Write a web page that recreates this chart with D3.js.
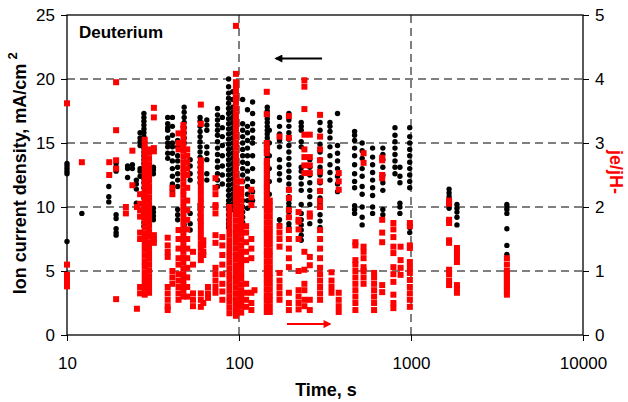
<!DOCTYPE html>
<html>
<head>
<meta charset="utf-8">
<script src="https://cdn.jsdelivr.net/npm/d3@7"></script>
<style>
body { margin: 0; background: #fff; }
svg text { font-family: "Liberation Sans", Arial, sans-serif; }
</style>
</head>
<body>
<svg id="chart" width="628" height="402"></svg>
<script>
// axis ticks
var timeTicks = [10, 100, 1000, 10000];
var ionTicks = [0, 5, 10, 15, 20, 25];
var ratioTicks = [0, 1, 2, 3, 4, 5];

// ion current density, mA/cm2 : [time s, [values...]]
var ionColumns = [
    [10, [7.3, 12.6, 12.8, 13.0, 13.2, 13.4]],
    [12.2, [9.5]],
    [17.5, [10.4, 10.8, 11.6]],
    [19.3, [7.8, 8.0, 8.3, 9.1, 9.4, 12.8, 13.1, 13.4]],
    [22.5, [12.3, 13.0, 13.2]],
    [24.0, [13.0, 13.3]],
    [25.3, [10.3, 11.4, 11.8, 12.1]],
    [26.6, [12.4, 12.8, 13.0, 14.8, 15.1, 15.4, 15.8]],
    [28.0, [8.5, 8.8, 9.1, 9.5, 9.9, 10.3, 10.7, 11.1, 11.5, 11.9, 12.2, 12.5, 12.8, 13.1, 13.4, 13.7, 14.0, 14.3, 14.6, 14.9, 15.2, 15.5, 15.8, 16.1, 16.4, 16.7, 17.0, 17.3]],
    [29.5, [8.4, 8.7, 9.1, 9.6, 10.1, 10.5, 12.0, 12.6]],
    [31.8, [9.0, 9.3, 9.6, 9.9, 12.6, 12.9, 13.1]],
    [38.5, [13.8, 14.2, 14.7, 15.0, 15.4, 16.0, 16.2, 16.5, 17.0]],
    [41.0, [11.3, 11.8, 12.4, 13.0, 13.6, 14.2, 14.7, 15.0, 15.6, 16.3, 17.0]],
    [44.0, [9.0, 9.4, 9.8, 11.6, 12.1, 12.6, 13.1, 13.6, 14.0, 14.7, 15.2]],
    [48.0, [8.2, 8.6, 9.0, 15.0, 15.4, 15.8, 16.2, 16.6, 17.0, 17.4, 17.8]],
    [52.0, [8.2, 8.7, 9.5, 12.1, 12.6, 13.2, 13.7]],
    [59.4, [9.0, 9.4, 9.8, 10.2, 11.9, 12.3, 12.7, 13.1, 13.5, 13.9, 14.3, 14.7, 15.1, 15.5, 15.9, 16.3, 16.7, 17.0]],
    [65.0, [12.1, 12.6, 13.7, 14.2, 14.7, 16.0, 16.4, 16.8]],
    [75.0, [11.6, 12.1, 12.6, 13.1, 13.6, 14.1, 14.6, 15.1, 15.6, 16.0, 16.4, 16.8, 17.2, 17.7]],
    [80.0, [11.8, 12.5, 13.2, 14.0, 14.8, 15.5, 16.2, 17.0]],
    [87.0, [8.4, 8.7, 9.0, 9.4, 9.8, 10.2, 10.5, 10.9, 11.3, 11.7, 12.1, 12.5, 12.9, 13.3, 13.7, 14.1, 14.5, 14.9, 15.3, 15.7, 16.1, 16.5, 16.9, 17.3, 17.7, 18.1, 18.5, 18.9, 19.4, 20.0]],
    [92.0, [9.8, 10.2, 10.6, 11.0, 11.4, 11.8, 12.2, 12.6, 13.0, 13.4, 13.8, 14.2, 14.6, 15.0, 15.4, 15.8, 16.2, 16.6, 17.0, 17.4, 17.8, 18.4, 19.0]],
    [105, [8.8, 9.2, 9.6, 10.0, 10.5, 12.0, 12.5, 13.0, 13.5, 14.0, 14.5, 15.0, 15.5, 16.0, 16.5, 18.4]],
    [112, [9.9, 10.5, 11.0, 11.6, 12.2, 12.8, 13.4, 14.0, 14.6, 15.2, 15.8, 16.3, 17.6]],
    [120, [10.5, 11.2, 12.0, 13.0, 14.0, 15.0, 15.4, 16.0, 16.5, 17.3, 18.2]],
    [146, [10.0, 10.3, 10.6, 10.9, 11.2, 11.5, 11.8, 12.1, 12.4, 12.7, 13.0, 13.3, 13.6, 13.9, 14.2, 14.5, 14.8, 15.1, 15.4, 15.7, 16.0, 16.3, 16.6, 16.9, 17.2, 17.5, 17.8]],
    [150, [10.4, 11.0, 12.0, 13.0, 14.0, 15.0, 16.0]],
    [172, [8.6, 9.0, 12.1, 12.6, 13.1, 13.7, 14.7, 15.2, 15.7, 16.3, 17.0]],
    [195, [8.4, 8.7, 9.2, 9.6, 10.0, 10.3, 10.8, 11.3, 11.8, 12.3, 12.8, 13.3, 13.8, 14.3, 14.8, 15.3, 15.8, 16.3, 16.8, 17.3]],
    [230, [7.4, 7.8, 8.2, 8.6, 9.0, 9.5, 10.2, 11.3, 11.8, 12.3, 12.8, 13.1, 14.7, 15.1, 16.0, 16.3, 16.6]],
    [258, [8.7, 9.3, 10.2, 10.8, 11.3, 11.9, 12.5, 13.1, 13.7]],
    [296, [8.4, 8.9, 9.4, 10.0, 10.2, 10.7, 11.3, 11.9, 12.5, 13.1, 13.7, 14.3, 14.9, 15.5, 16.0, 16.6]],
    [338, [12.1, 12.7, 13.3, 14.0, 14.7, 15.4, 15.9, 16.3, 16.6]],
    [374, [11.2, 11.8, 12.4, 13.0, 13.6, 14.2, 14.8, 17.3]],
    [470, [9.5, 9.8, 10.1, 11.5, 12.0, 12.6, 13.3, 14.0, 14.6, 15.2, 15.6, 15.9]],
    [520, [8.6, 9.2, 10.0, 11.0, 11.6, 12.4, 13.0, 13.8, 14.4, 15.0]],
    [598, [9.5, 10.0, 10.9, 11.5, 12.1, 12.7, 13.3, 13.9, 14.6]],
    [686, [9.4, 9.8, 11.3, 11.9, 12.5, 13.1, 13.7, 14.1, 14.6]],
    [807, [12.6, 13.1, 13.6, 14.1, 14.6, 15.1, 15.6, 16.2]],
    [862, [9.5, 10.0, 10.3, 11.9, 12.4, 13.1]],
    [983, [8.0, 8.4, 11.5, 12.0, 12.5, 13.0, 13.5, 14.0, 14.5, 15.0, 15.5, 16.2]],
    [1665, [9.9, 10.2, 10.5, 10.8, 11.1, 11.4]],
    [1850, [8.6, 9.2, 9.6, 9.9, 10.2]],
    [3610, [6.0, 6.3, 7.0, 8.3, 9.5, 9.8, 10.0, 10.2]]
];

// je/jH- ratio : [time s, [values...]]
var ratioColumns = [
    [10, [0.76, 0.82, 0.88, 0.94, 1.10, 3.62]],
    [12.2, [2.70]],
    [17.6, [2.50, 2.70]],
    [19.3, [0.56, 2.60, 2.73, 3.20, 3.95]],
    [22.0, [1.90, 2.00]],
    [24.0, [2.34, 2.88]],
    [25.5, [0.41, 2.00]],
    [26.6, [0.65, 0.75, 1.50, 1.60, 1.85, 1.95, 2.05, 2.20]],
    [28.3, [0.63, 0.72, 0.8, 0.89, 0.98, 1.07, 1.15, 1.24, 1.33, 1.42, 1.5, 1.59, 1.68, 1.77, 1.85, 1.94, 2.03, 2.12, 2.2, 2.29, 2.38, 2.47, 2.55, 2.64, 2.73, 2.82, 2.9, 2.98, 3.05]],
    [30.0, [0.66, 0.75, 0.84, 0.92, 1.01, 1.1, 1.19, 1.27, 1.36, 1.45, 1.54, 1.62, 1.71, 1.8, 1.89, 1.97, 2.06, 2.15, 2.24, 2.32, 2.41, 2.5, 2.59, 2.67, 2.76, 2.85, 2.9]],
    [32.0, [1.44, 1.50, 1.56, 2.87, 2.92, 3.40, 3.55]],
    [38.5, [0.39, 0.45, 0.55, 0.65, 0.75, 1.22, 1.30, 1.40, 1.52]],
    [41.0, [0.80, 0.90, 1.00, 2.20, 2.30]],
    [44.5, [0.55, 0.65, 0.75, 0.85, 0.95, 1.10, 1.20, 1.35, 1.50, 1.64, 2.90, 3.00, 3.15]],
    [47.5, [0.6, 0.69, 0.78, 0.86, 0.95, 1.04, 1.13, 1.21, 1.3, 1.39, 1.48, 1.56, 1.65, 1.74, 1.83, 1.91, 2.0, 2.09, 2.18, 2.26, 2.35, 2.44, 2.53, 2.61, 2.7, 2.79, 2.88, 2.96, 3.05, 3.14, 3.22, 3.28]],
    [50.0, [0.6, 0.75, 0.9, 1.05, 1.2, 1.35, 1.5, 1.65, 1.8, 1.95, 2.1, 2.3, 2.5, 2.6, 2.7, 2.8, 2.9]],
    [54.0, [0.45, 0.55, 0.65, 1.10, 1.30]],
    [60.0, [0.44, 0.55, 0.65, 1.17, 1.26, 1.35, 1.43, 1.52, 1.61, 1.7, 1.78, 1.87, 1.96, 2.05, 2.13, 2.22, 2.31, 2.4, 2.48, 2.57, 2.66, 2.73, 3.30, 3.60]],
    [62.0, [0.50, 1.25, 1.30, 1.40, 1.48]],
    [66.0, [0.58, 0.65, 0.75]],
    [73.0, [0.66, 0.75, 0.85, 0.95, 1.05, 1.44, 1.56, 1.90, 2.00, 2.03, 2.20, 2.30, 2.45]],
    [80.0, [0.55, 0.68, 0.80, 0.95, 1.10, 1.25, 1.40, 1.53]],
    [88.0, [0.34, 0.43, 0.52, 0.6, 0.69, 0.78, 0.87, 0.95, 1.04, 1.13, 1.22, 1.3, 1.39, 1.48, 1.57, 1.65, 1.74, 1.83, 1.92, 2.0]],
    [96.0, [0.3, 0.39, 0.48, 0.56, 0.65, 0.74, 0.83, 0.91, 1.0, 1.09, 1.18, 1.26, 1.35, 1.44, 1.53, 1.61, 1.7, 1.79, 1.88, 1.96, 2.05, 2.14, 2.23, 2.31, 2.4, 2.49, 2.58, 2.66, 2.75, 2.84, 2.93, 3.01, 3.1, 3.19, 3.28, 3.36, 3.45, 3.54, 3.63, 3.71, 3.8, 3.88, 3.95, 4.08, 4.83]],
    [103, [0.35, 0.44, 0.53, 0.61, 0.7, 0.79, 0.88, 0.96, 1.05, 1.14, 1.23, 1.31, 1.4, 1.49, 1.58, 1.66, 1.75, 1.84, 1.93, 2.01, 2.1, 2.19, 2.28, 2.4]],
    [110, [0.44, 0.55, 0.66, 0.80, 1.17, 1.30, 1.45, 1.60, 1.70]],
    [118, [0.39, 0.50, 0.66, 1.20, 1.35, 1.50, 2.03, 2.15, 2.27]],
    [123, [0.70]],
    [145, [0.36, 0.45, 0.54, 0.62, 0.71, 0.8, 0.89, 0.97, 1.06, 1.15, 1.24, 1.32, 1.41, 1.5, 1.59, 1.67, 1.76, 1.85, 1.94, 2.02, 2.11, 2.2, 2.29, 2.37, 2.46, 2.55, 2.64, 2.72, 2.84, 2.92, 3.0, 3.45, 3.8]],
    [151, [0.36, 0.45, 0.54, 0.62, 0.71, 0.8, 0.89, 0.97, 1.06, 1.15, 1.24, 1.32, 1.41, 1.5, 1.59, 1.67, 1.76, 1.85, 1.94, 2.02, 2.1]],
    [172, [0.55, 0.65, 0.75, 0.85, 0.97, 1.38, 1.50, 1.60, 1.70, 3.10]],
    [195, [0.39, 0.50, 0.66, 1.06, 1.20, 1.35, 1.50, 1.64, 1.84, 1.95, 2.14, 2.27, 3.08, 3.42]],
    [222, [0.40, 0.50, 0.60, 0.70, 1.00, 1.50, 1.65, 1.77, 1.80, 1.92]],
    [240, [0.45, 0.55, 0.70, 0.80, 1.02, 1.30, 2.53, 2.65, 2.78, 2.90, 3.13, 3.53, 3.88, 3.98]],
    [258, [0.39, 0.55, 1.09, 1.22, 1.85, 1.90, 2.53, 2.65, 2.78, 3.13]],
    [296, [0.55, 0.65, 0.75, 0.85, 0.95, 1.05, 1.20, 1.35, 1.50, 1.64, 2.00, 2.10, 2.25, 2.40, 2.55, 2.73, 2.90, 3.10, 3.44]],
    [345, [0.66, 0.75, 0.85, 0.98]],
    [380, [0.36, 0.45, 0.55, 0.66, 2.27, 2.40, 2.53]],
    [475, [0.39, 0.50, 0.60, 0.70, 0.80, 0.90, 1.00, 1.10, 1.17, 1.40, 1.45]],
    [530, [0.80, 0.90, 1.00, 1.06, 1.20, 1.30, 1.38, 2.69, 2.84]],
    [610, [0.39, 0.50, 0.60, 0.70, 0.80, 0.90, 0.97]],
    [680, [0.67, 0.78, 1.45, 1.60, 1.80, 2.45, 2.50, 2.73, 2.77]],
    [790, [0.42, 0.50, 0.63, 0.83, 0.95, 1.06, 1.28, 1.38, 1.53, 1.65, 1.75]],
    [870, [0.94, 1.05, 1.17, 1.38]],
    [985, [0.44, 0.55, 0.65, 0.75, 0.86, 0.97, 1.05, 1.14, 1.36, 1.40, 1.70, 1.75]],
    [1665, [0.78, 0.85, 0.95, 1.02, 1.44, 1.48, 1.75, 1.80, 2.05, 2.10]],
    [1850, [0.66, 0.72, 0.78, 1.14, 1.22, 1.30, 1.36]],
    [3610, [0.63, 0.70, 0.75, 0.80, 0.85, 0.90, 0.95, 1.00, 1.10, 1.20]]
];

// arrows showing which axis each series belongs to: [from time, to time, level]
var ionArrow = [304, 164, 21.6];
var ratioArrow = [190, 338, 0.17];

var margin = {top: 15, right: 45, bottom: 67, left: 67};
var width = 628 - margin.left - margin.right;
var height = 402 - margin.top - margin.bottom;

var svg = d3.select("#chart")
    .append("g")
    .attr("transform", "translate(" + margin.left + "," + margin.top + ")");

var xScale = d3.scaleLog().domain([10, 10000]).range([0, width]);
var yIon = d3.scaleLinear().domain([0, 25]).range([height, 0]);
var yRatio = d3.scaleLinear().domain([0, 5]).range([height, 0]);

// dashed grid
svg.append("g")
    .selectAll("line")
    .data(ionTicks.filter(function(d){ return d > 0 && d < 25; }))
    .enter().append("line")
    .attr("x1", 0).attr("x2", width)
    .attr("y1", function(d){ return yIon(d); })
    .attr("y2", function(d){ return yIon(d); })
    .attr("stroke", "#000").attr("stroke-width", 1)
    .attr("stroke-dasharray", "8,5");

svg.append("g")
    .selectAll("line")
    .data(timeTicks.slice(1, -1))
    .enter().append("line")
    .attr("x1", function(d){ return xScale(d); })
    .attr("x2", function(d){ return xScale(d); })
    .attr("y1", 0).attr("y2", height)
    .attr("stroke", "#000").attr("stroke-width", 1)
    .attr("stroke-dasharray", "8,5");

// axes
var xAxis = svg.append("g")
    .attr("transform", "translate(0," + height + ")")
    .call(d3.axisBottom(xScale).tickValues(timeTicks).tickFormat(d3.format("d")).tickSize(6).tickPadding(16));
var yAxisL = svg.append("g")
    .call(d3.axisLeft(yIon).tickValues(ionTicks).tickFormat(d3.format("d")).tickSize(6).tickPadding(6));
var yAxisR = svg.append("g")
    .attr("transform", "translate(" + width + ",0)")
    .call(d3.axisRight(yRatio).tickValues(ratioTicks).tickFormat(d3.format("d")).tickSize(6).tickPadding(6));

[xAxis, yAxisL, yAxisR].forEach(function(a){
    a.select(".domain").remove();
    a.selectAll("line").attr("stroke", "#000");
    a.selectAll("text").attr("fill", "#000").style("font-size", "17px");
});

// frame
svg.append("rect")
    .attr("x", 0).attr("y", 0)
    .attr("width", width).attr("height", height)
    .attr("fill", "none").attr("stroke", "#000").attr("stroke-width", 1.3);

function flatten(cols){
    var out = [];
    cols.forEach(function(c){
        c[1].forEach(function(v){ out.push({t: c[0], v: v}); });
    });
    return out;
}

// ion current (black circles)
svg.append("g")
    .selectAll("circle")
    .data(flatten(ionColumns))
    .enter().append("circle")
    .attr("cx", function(d){ return xScale(d.t); })
    .attr("cy", function(d){ return yIon(d.v); })
    .attr("r", 2.7)
    .attr("fill", "#000");

// je/jH- (red squares)
var sq = 6;
svg.append("g")
    .selectAll("rect")
    .data(flatten(ratioColumns))
    .enter().append("rect")
    .attr("x", function(d){ return xScale(d.t) - sq / 2; })
    .attr("y", function(d){ return yRatio(d.v) - sq / 2; })
    .attr("width", sq).attr("height", sq)
    .attr("fill", "#ff0000");

// arrows
var defs = d3.select("#chart").append("defs");
[["headBlack", "#000"], ["headRed", "#ff0000"]].forEach(function(m){
    defs.append("marker")
        .attr("id", m[0])
        .attr("viewBox", "0 0 10 10")
        .attr("refX", 8).attr("refY", 5)
        .attr("markerWidth", 5).attr("markerHeight", 4)
        .attr("markerUnits", "strokeWidth")
        .attr("orient", "auto")
        .append("path")
        .attr("d", "M0,0 L10,5 L0,10 z")
        .attr("fill", m[1]);
});

svg.append("line")
    .attr("x1", xScale(ionArrow[0])).attr("x2", xScale(ionArrow[1]))
    .attr("y1", yIon(ionArrow[2])).attr("y2", yIon(ionArrow[2]))
    .attr("stroke", "#000").attr("stroke-width", 2)
    .attr("marker-end", "url(#headBlack)");

svg.append("line")
    .attr("x1", xScale(ratioArrow[0])).attr("x2", xScale(ratioArrow[1]))
    .attr("y1", yRatio(ratioArrow[2])).attr("y2", yRatio(ratioArrow[2]))
    .attr("stroke", "#ff0000").attr("stroke-width", 2)
    .attr("marker-end", "url(#headRed)");

// labels
svg.append("text")
    .attr("x", 12).attr("y", 23)
    .style("font-size", "17px").style("font-weight", "bold")
    .text("Deuterium");

svg.append("text")
    .attr("x", width / 2 + 1).attr("y", height + 61)
    .attr("text-anchor", "middle")
    .style("font-size", "18px").style("font-weight", "bold")
    .text("Time, s");

svg.append("text")
    .attr("transform", "translate(-41," + (yIon(12.5) + 4) + ") rotate(-90)")
    .attr("text-anchor", "middle")
    .style("font-size", "18px").style("font-weight", "bold")
    .text("Ion current density, mA/cm");

svg.append("text")
    .attr("transform", "translate(-50,41) rotate(-90)")
    .attr("text-anchor", "middle")
    .style("font-size", "13px").style("font-weight", "bold")
    .text("2");

svg.append("text")
    .attr("transform", "translate(" + (width + 27) + "," + (yRatio(2.5) - 3) + ") rotate(90)")
    .attr("text-anchor", "middle")
    .attr("fill", "#ff0000")
    .style("font-size", "18px").style("font-weight", "bold")
    .text("je/jH-");
</script>
</body>
</html>
